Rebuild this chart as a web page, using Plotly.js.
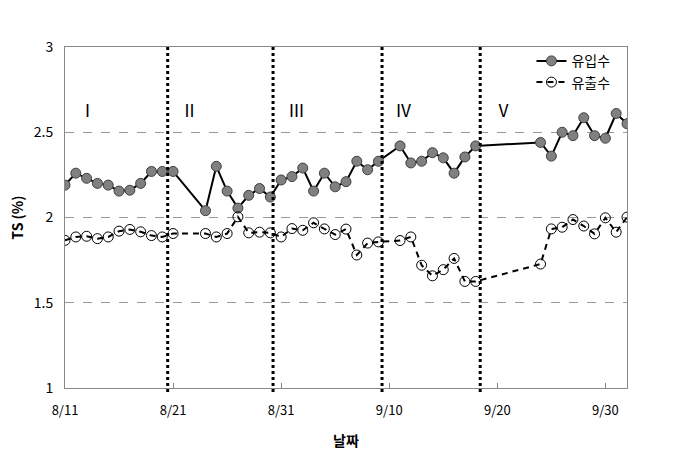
<!DOCTYPE html>
<html>
<head>
<meta charset="utf-8">
<script src="https://cdn.plot.ly/plotly-3.0.1.min.js"></script>
<style>html,body{margin:0;padding:0;background:#fff;}#chart{width:679px;height:462px;}</style>
</head>
<body>
<div id="chart"></div>
<script>
const dates = ['2014-08-11','2014-08-12','2014-08-13','2014-08-14','2014-08-15','2014-08-16','2014-08-17','2014-08-18','2014-08-19','2014-08-20','2014-08-21',
  '2014-08-24','2014-08-25','2014-08-26','2014-08-27','2014-08-28','2014-08-29','2014-08-30','2014-08-31','2014-09-01','2014-09-02','2014-09-03','2014-09-04','2014-09-05','2014-09-06','2014-09-07','2014-09-08','2014-09-09',
  '2014-09-11','2014-09-12','2014-09-13','2014-09-14','2014-09-15','2014-09-16','2014-09-17','2014-09-18',
  '2014-09-24','2014-09-25','2014-09-26','2014-09-27','2014-09-28','2014-09-29','2014-09-30','2014-10-01','2014-10-02'];
const influent = [2.19,2.26,2.23,2.20,2.19,2.155,2.16,2.20,2.27,2.27,2.27,
  2.04,2.30,2.155,2.055,2.13,2.17,2.12,2.22,2.24,2.29,2.155,2.26,2.18,2.21,2.33,2.28,2.33,
  2.42,2.32,2.33,2.38,2.35,2.26,2.355,2.42,
  2.44,2.36,2.50,2.48,2.585,2.48,2.465,2.61,2.55];
const effluent = [1.866,1.886,1.89,1.876,1.886,1.92,1.93,1.916,1.894,1.886,1.906,
  1.906,1.886,1.906,2.004,1.91,1.914,1.91,1.886,1.935,1.925,1.969,1.933,1.90,1.932,1.78,1.85,1.857,
  1.865,1.886,1.72,1.658,1.694,1.76,1.625,1.625,
  1.727,1.933,1.943,1.988,1.95,1.904,1.998,1.914,2.002];
const seriesNames = ['유입수','유출수'];
const phaseLabels = ['Ⅰ','Ⅱ','Ⅲ','Ⅳ','Ⅴ'];
const phaseLabelDates = ['2014-08-13 03:00','2014-08-22 13:00','2014-09-01 10:00','2014-09-11 08:00','2014-09-20 14:00'];
const phaseBoundaries = ['2014-08-20 12:00','2014-08-30 06:00','2014-09-09 08:00','2014-09-18 10:00'];

const font = 'Noto Sans CJK KR, Malgun Gothic, sans-serif';

const traces = [
  {x: dates, y: influent, name: seriesNames[0], type: 'scatter', mode: 'lines+markers',
   line: {color: '#000', width: 2},
   marker: {symbol: 'circle', size: 10, color: '#808080', line: {color: '#404040', width: 1}}},
  {x: dates, y: effluent, name: seriesNames[1], type: 'scatter', mode: 'lines+markers',
   line: {color: '#000', width: 2, dash: '6px,5px'},
   marker: {symbol: 'circle', size: 10, color: 'rgba(255,255,255,0)', line: {color: '#000', width: 1}}}
];

const shapes = phaseBoundaries.map(d => ({
  type: 'line', xref: 'x', yref: 'paper', x0: d, x1: d, y0: -0.012, y1: 1,
  line: {color: '#000', width: 3, dash: 'dot'}
}));

const annotations = phaseLabels.map((t, i) => ({
  x: phaseLabelDates[i], y: 2.635, xref: 'x', yref: 'y', text: t, showarrow: false,
  font: {family: font, size: 17, color: '#000'}
}));

const layout = {
  width: 679, height: 462,
  margin: {l: 65, r: 52, t: 47, b: 74},
  paper_bgcolor: '#fff', plot_bgcolor: '#fff',
  showlegend: true,
  legend: {x: 0.83, y: 1.005, xanchor: 'left', yanchor: 'top', bgcolor: 'rgba(255,255,255,0)',
    itemwidth: 30,
    font: {family: font, size: 14, color: '#000'}, tracegroupgap: 0},
  xaxis: {
    type: 'date', range: ['2014-08-11', '2014-10-02'],
    tick0: '2014-08-11', dtick: 864000000, tickformat: '%-m/%-d',
    showgrid: false, zeroline: false,
    showline: true, linecolor: '#888', linewidth: 1, mirror: true,
    ticks: 'inside', ticklen: 5, tickcolor: '#888',
    ticklabelstandoff: 10,
    tickfont: {family: font, size: 13, color: '#000'},
    title: {text: '날짜', font: {family: font, size: 14, color: '#000', weight: 'bold'}, standoff: 18}
  },
  yaxis: {
    range: [1, 3], dtick: 0.5,
    showgrid: true, gridcolor: '#999', griddash: 'dash', gridwidth: 1,
    zeroline: false, showline: true, linecolor: '#888', linewidth: 1, mirror: true,
    ticks: '', ticklabelstandoff: 8,
    tickfont: {family: font, size: 14, color: '#000'},
    title: {text: 'TS (%)', font: {family: font, size: 14, color: '#000', weight: 'bold'}, standoff: 6}
  },
  shapes: shapes,
  annotations: annotations
};

Plotly.newPlot('chart', traces, layout, {displayModeBar: false, staticPlot: true});
</script>
</body>
</html>
